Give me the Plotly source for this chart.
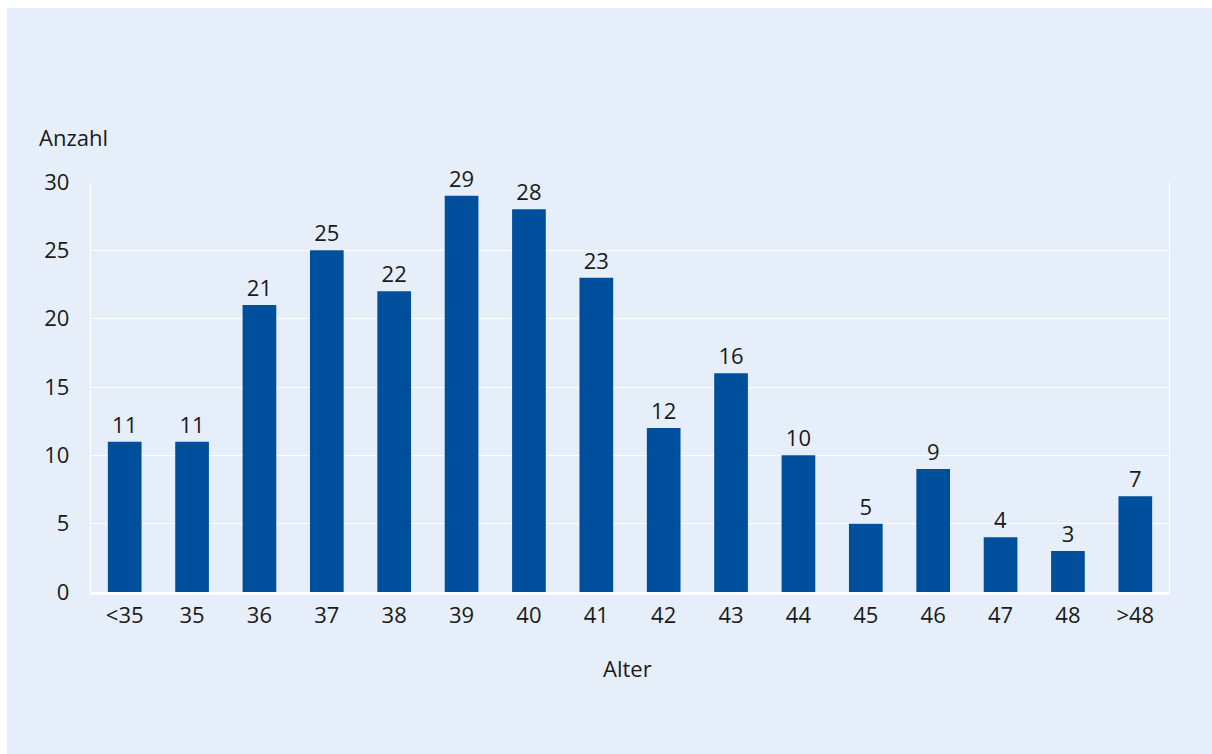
import plotly.graph_objects as go

categories = ["<35", "35", "36", "37", "38", "39", "40", "41", "42", "43", "44", "45", "46", "47", "48", ">48"]
counts = [11, 11, 21, 25, 22, 29, 28, 23, 12, 16, 10, 5, 9, 4, 3, 7]
y_ticks = [0, 5, 10, 15, 20, 25, 30]

BG = "#e6eff9"
BAR = "#004f9d"
TXT = "#1a1a1a"
FONT = "Open Sans"
FS = 22
W, H = 1212, 754
L, R, T, B = 91, 43, 182, 162
pw, ph = W - L - R, H - T - B

fig = go.Figure(go.Bar(
    x=categories, y=counts, marker=dict(color=BAR, line=dict(width=0)),
    width=0.5, text=[str(v) for v in counts], textposition="outside",
    textfont=dict(family=FONT, size=FS, color=TXT), cliponaxis=False,
))

fig.update_layout(
    width=W, height=H, margin=dict(l=L, r=R, t=T, b=B, pad=0),
    paper_bgcolor=BG, plot_bgcolor=BG, showlegend=False,
    font=dict(family=FONT, size=FS, color=TXT),
    bargap=0.5,
)
fig.update_xaxes(
    type="category", showgrid=False, showline=True, linecolor="white", linewidth=2.5,
    ticks="", tickfont=dict(size=FS, color=TXT), ticklabelstandoff=2,
)
fig.update_yaxes(
    range=[0, 30], tickvals=y_ticks, showgrid=True, gridcolor="white", gridwidth=1.3,
    zeroline=False, showline=True, mirror=True, linecolor="white", linewidth=1.3,
    ticks="", tickfont=dict(size=FS, color=TXT), ticklabelstandoff=16,
)

# white margin strips at top and left
fig.add_shape(type="rect", xref="paper", yref="paper",
              x0=-L / pw, x1=(W - L) / pw + 0.01, y0=(H - B - 8) / ph, y1=(H - B) / ph + 0.01,
              fillcolor="white", line=dict(width=0), layer="above")
fig.add_shape(type="rect", xref="paper", yref="paper",
              x0=-L / pw - 0.01, x1=(7 - L) / pw, y0=-B / ph - 0.01, y1=(H - B) / ph + 0.01,
              fillcolor="white", line=dict(width=0), layer="above")

fig.add_annotation(text="Anzahl", xref="paper", yref="paper",
                   x=(37 - L) / pw, y=(H - B - 137) / ph, xanchor="left", yanchor="middle",
                   showarrow=False, font=dict(size=FS, color=TXT))
fig.add_annotation(text="Alter", xref="paper", yref="paper",
                   x=(627 - L) / pw, y=(H - B - 668) / ph, xanchor="center", yanchor="middle",
                   showarrow=False, font=dict(size=FS, color=TXT))

fig.write_html("out.html")
